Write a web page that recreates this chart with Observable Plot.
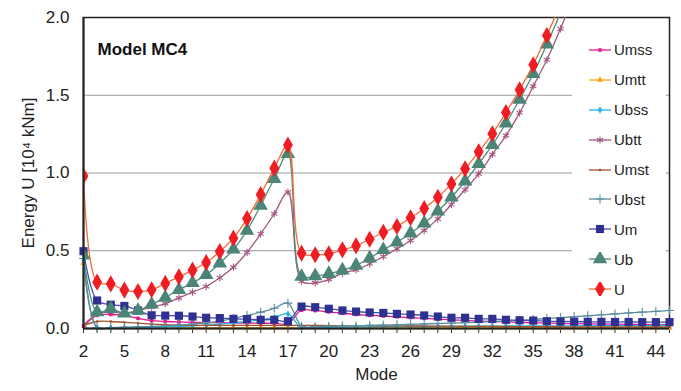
<!DOCTYPE html>
<html>
<head>
<meta charset="utf-8">
<script src="https://cdn.jsdelivr.net/npm/d3@7"></script>
<script src="https://cdn.jsdelivr.net/npm/@observablehq/plot@0.6"></script>
<style>
  html, body { margin: 0; padding: 0; background: #fff; }
  #chart { position: relative; width: 681px; height: 391px; font-family: "Liberation Sans", Arial, sans-serif; }
  #legend { position: absolute; left: 572px; top: 35px; width: 94px; background: #fff; }
  .item { display: flex; align-items: center; height: 29.9px; font-size: 15px; color: #222; }
  .item svg { margin-left: 16px; margin-right: 2px; }
</style>
</head>
<body>
<div id="chart"><div id="legend"></div></div>
<script>
// Mode numbers on the x axis
const modes = [2,3,4,5,6,7,8,9,10,11,12,13,14,15,16,17,18,19,20,21,22,23,24,25,26,27,28,29,30,31,32,33,34,35,36,37,38,39,40,41,42,43,44,45];
const xTickLabels = [2,5,8,11,14,17,20,23,26,29,32,35,38,41,44];
const yTickLabels = [0, 0.5, 1.0, 1.5, 2.0];
const gridValues = [0.5, 1.0, 1.5];

// Energy components [10^4 kNm], one value per mode (starting at mode 2)
const Umss = [0.015,0.085,0.09,0.085,0.065,0.05,0.045,0.042,0.04,0.038,0.037,0.036,0.035,0.034,0.033,0.03,
  0.118,0.115,0.107,0.098,0.09,0.085,0.08,0.075,0.07,0.065,0.06,0.055,0.052,0.048,0.045,0.042,0.04,0.037,
  0.035,0.033,0.031,0.03,0.029,0.028,0.027,0.026,0.025,0.025];
const Umtt = [0.42,0.004,0.004,0.004,0.004,0.004,0.004,0.004,0.004,0.004,0.004,0.004,0.004,0.004,0.004,0.004,
  0.004,0.004,0.004,0.004,0.004,0.004,0.004,0.004,0.004,0.004,0.004,0.004,0.004,0.004,0.004,0.004,0.004,0.004,
  0.004,0.004,0.004,0.004,0.004,0.004,0.004,0.004,0.004,0.004];
const Ubss = [0.44,0.005,0.006,0.006,0.007,0.008,0.01,0.013,0.017,0.022,0.028,0.036,0.045,0.056,0.072,0.094,
  0.004,0.006,0.008,0.009,0.01,0.011,0.012,0.012,0.013,0.013,0.014,0.014,0.015,0.015,0.015,0.016,0.016,0.016,
  0.017,0.017,0.017,0.018,0.018,0.018,0.019,0.019,0.019,0.02];
const Ubtt = [0.02,0.095,0.105,0.1,0.115,0.137,0.16,0.197,0.234,0.27,0.326,0.394,0.489,0.609,0.738,0.877,
  0.304,0.294,0.315,0.356,0.377,0.416,0.463,0.512,0.566,0.63,0.705,0.797,0.892,0.995,1.119,1.241,1.387,1.558,
  1.728,1.927,2.15];
const Umst = [0.02,0.045,0.045,0.04,0.035,0.028,0.024,0.022,0.021,0.02,0.02,0.02,0.02,0.02,0.02,0.02,
  0.02,0.02,0.019,0.019,0.018,0.018,0.017,0.017,0.016,0.016,0.015,0.015,0.014,0.014,0.013,0.013,0.012,0.012,
  0.012,0.011,0.011,0.011,0.01,0.01,0.01,0.01,0.01,0.01];
const Ubst = [0.45,0.005,0.006,0.008,0.01,0.013,0.017,0.022,0.028,0.036,0.047,0.065,0.084,0.105,0.13,0.163,
  0.015,0.012,0.014,0.016,0.018,0.02,0.022,0.024,0.027,0.03,0.032,0.035,0.038,0.041,0.045,0.048,0.052,0.058,
  0.064,0.07,0.076,0.082,0.088,0.094,0.1,0.105,0.11,0.116];
const Um = [0.497,0.18,0.153,0.145,0.116,0.085,0.083,0.082,0.077,0.069,0.067,0.062,0.06,0.056,0.056,0.047,
  0.141,0.137,0.127,0.116,0.109,0.103,0.1,0.094,0.09,0.084,0.077,0.069,0.069,0.062,0.062,0.056,0.053,0.051,
  0.047,0.045,0.044,0.043,0.043,0.042,0.042,0.041,0.041,0.041];
const Ub = [0.47,0.105,0.127,0.097,0.115,0.155,0.199,0.249,0.294,0.345,0.42,0.509,0.63,0.791,0.963,1.123,
  0.334,0.338,0.352,0.375,0.405,0.452,0.506,0.555,0.613,0.677,0.754,0.844,0.947,1.059,1.181,1.32,1.473,1.638,
  1.828,2.03,2.26];
const U = [0.98,0.298,0.287,0.247,0.238,0.249,0.29,0.332,0.375,0.424,0.495,0.581,0.707,0.861,1.031,1.18,
  0.484,0.474,0.48,0.506,0.532,0.574,0.619,0.656,0.712,0.772,0.844,0.93,1.027,1.136,1.252,1.389,1.535,1.696,
  1.884,2.09,2.32];

// Series styling, drawn in this order (U on top)
const series = [
  {name: "Umss", values: Umss, line: "#E8188C", mark: "#E8188C", symbol: "square", r: 2, filled: true},
  {name: "Umtt", values: Umtt, line: "#F5A31A", mark: "#F5A31A", symbol: "triangle", r: 2.4, filled: true},
  {name: "Ubss", values: Ubss, line: "#25B4E6", mark: "#25B4E6", symbol: "diamond", r: 2.2, filled: true},
  {name: "Ubtt", values: Ubtt, line: "#A4577F", mark: "#A4577F", symbol: "asterisk", r: 3.4, filled: false, clip: true},
  {name: "Umst", values: Umst, line: "#A0522D", mark: "#A0522D", symbol: "circle", r: 1.3, filled: true},
  {name: "Ubst", values: Ubst, line: "#5A8FA0", mark: "#5A8FA0", symbol: "plus", r: 3.0, filled: false},
  {name: "Um", values: Um, line: "#4B4CA8", mark: "#2E3192", symbol: "square", r: 4.6, filled: true},
  {name: "Ub", values: Ub, line: "#4F8C7B", mark: "#4A8577", symbol: "triangle", r: 5.4, filled: true, clip: true},
  {name: "U", values: U, line: "#F5693A", mark: "#EE1D23", symbol: "diamond", r: 5.2, filled: true, clip: true}
];

const seriesMarks = series.flatMap(s => {
  const rows = s.values.map((v, i) => ({mode: modes[i], value: v}));
  const dotOpts = {x: "mode", y: "value", symbol: () => s.symbol, r: s.r, clip: !!s.clip};
  if (s.filled) { dotOpts.fill = s.mark; dotOpts.stroke = "none"; }
  else { dotOpts.stroke = s.mark; dotOpts.fill = "none"; dotOpts.strokeWidth = 1.1; }
  return [
    Plot.line(rows, {x: "mode", y: "value", stroke: s.line, strokeWidth: 1.3, curve: "catmull-rom", clip: !!s.clip}),
    Plot.dot(rows, dotOpts)
  ];
});

const chart = Plot.plot({
  width: 681,
  height: 391,
  marginLeft: 83,
  marginRight: 12,
  marginTop: 17,
  marginBottom: 63,
  x: {domain: [2, 45]},
  y: {domain: [0, 2]},
  symbol: {type: "identity"},
  style: {fontFamily: "'Liberation Sans', Arial, sans-serif", fontSize: "17px", color: "#222", background: "#fff", overflow: "visible"},
  marks: [
    Plot.ruleY(gridValues, {stroke: "#9a9a9a", strokeWidth: 1.2}),
    Plot.frame({stroke: "#222", strokeWidth: 1.5}),
    Plot.axisX(modes, {tickSize: 5, tickFormat: () => "", stroke: "#333", label: null}),
    Plot.axisX(xTickLabels, {tickSize: 0, tickPadding: 16, fontSize: 17, fill: "#222", label: null}),
    Plot.axisY(yTickLabels, {tickSize: 0, tickPadding: 14, tickFormat: d3.format(".1f"), fontSize: 17, fill: "#222", label: null}),
    Plot.text(["Mode"], {frameAnchor: "bottom", dy: 51, fontSize: 17, fill: "#222"}),
    Plot.text(["Energy U [10⁴ kNm]"], {frameAnchor: "left", textAnchor: "middle", dx: -55, rotate: -90, fontSize: 17, fill: "#222"}),
    Plot.text(["Model MC4"], {frameAnchor: "top-left", dx: 14, dy: 25, textAnchor: "start", fontSize: 17, fontWeight: "bold", fill: "#111"}),
    ...seriesMarks,
    Plot.ruleX([2], {stroke: "#222", strokeWidth: 2}),
    Plot.ruleY([0], {stroke: "#222", strokeWidth: 2})
  ]
});

document.getElementById("chart").prepend(chart);

// Legend drawn with the same symbols as the plot
const symbolTypes = {
  square: d3.symbolSquare, triangle: d3.symbolTriangle, diamond: d3.symbolDiamond,
  asterisk: d3.symbolAsterisk, plus: d3.symbolPlus, circle: d3.symbolCircle
};
const legend = d3.select("#legend");
for (const s of series) {
  const row = legend.append("div").attr("class", "item");
  const svg = row.append("svg").attr("width", 24).attr("height", 14);
  svg.append("line").attr("x1", 1).attr("x2", 23).attr("y1", 7).attr("y2", 7)
    .attr("stroke", s.line).attr("stroke-width", 1.3);
  const path = d3.symbol(symbolTypes[s.symbol], Math.PI * s.r * s.r)();
  const sym = svg.append("path").attr("d", path).attr("transform", "translate(12,7)");
  if (s.filled) sym.attr("fill", s.mark);
  else sym.attr("fill", "none").attr("stroke", s.mark).attr("stroke-width", 1.1);
  row.append("span").text(s.name);
}
</script>
</body>
</html>
